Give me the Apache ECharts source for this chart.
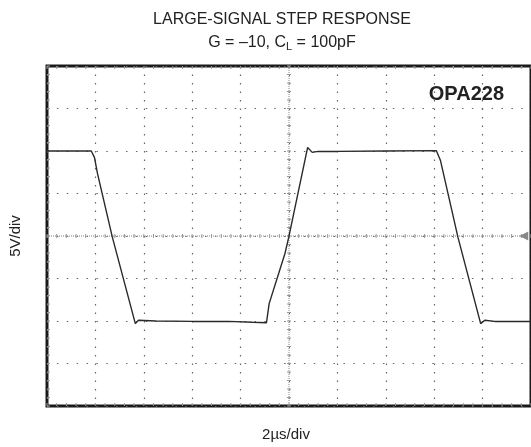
<!DOCTYPE html>
<html>
<head>
<meta charset="utf-8">
<script src="https://cdn.jsdelivr.net/npm/echarts@6/dist/echarts.min.js"></script>
<style>
  html, body { margin: 0; padding: 0; background: #fff; }
  #chart { width: 531px; height: 447px; }
</style>
</head>
<body>
<div id="chart"></div>
<script>
// Scope trace: time in microseconds, output in volts (2 µs/div, 5 V/div)
const timeUs = [0, 1.83, 1.96, 2.09, 2.70, 3.65, 3.78, 4.5, 6, 7.5, 8.5, 9.07, 9.18, 9.83, 9.99, 10.77, 10.96, 11.2, 12, 14, 16.09, 16.26, 16.98, 17.92, 18.09, 18.5, 20];
const volts  = [10, 10, 9.25, 7.3, -0.14, -10.31, -9.92, -10.0, -10.05, -10.05, -10.15, -10.2, -7.96, -2.09, -0.14, 10.42, 9.84, 9.95, 9.95, 10, 10.04, 8.87, -0.14, -10.31, -9.92, -10.05, -10.05];

// Screen divisions
const xRange = [0, 20];   // 10 divisions of 2 µs
const yRange = [-20, 20]; // 8 divisions of 5 V
const xDiv = 2;
const yDiv = 5;
const groundLevel = 0;

const titleLine1 = 'LARGE-SIGNAL STEP RESPONSE';
const partName = 'OPA228';
const xName = '2µs/div';
const yName = '5V/div';

const FONT = '"Liberation Sans", Arial, sans-serif';
const INK = '#222';
const DOT = '#666';

const chart = echarts.init(document.getElementById('chart'), null, { renderer: 'canvas' });

// Center cross-hair and edge ticks of the graticule, placed with the axes' scales
function renderGraticule(params, api) {
  const children = [];
  const tl = api.coord([xRange[0], yRange[1]]);
  const br = api.coord([xRange[1], yRange[0]]);
  const c = api.coord([(xRange[0] + xRange[1]) / 2, groundLevel]);
  const lineStyle = { stroke: '#999', lineWidth: 1 };
  children.push({ type: 'line', shape: { x1: tl[0], y1: c[1], x2: br[0], y2: c[1] },
    style: { stroke: '#888', lineWidth: 1, lineDash: [1, 1] } });
  children.push({ type: 'line', shape: { x1: c[0], y1: tl[1], x2: c[0], y2: br[1] },
    style: { stroke: '#888', lineWidth: 1, lineDash: [1, 1] } });
  const xMinor = xDiv / 5;
  for (let i = 0; i <= 50; i++) {
    const x = api.coord([xRange[0] + i * xMinor, 0])[0];
    children.push({ type: 'line', shape: { x1: x, y1: c[1] - 2, x2: x, y2: c[1] + 2 }, style: lineStyle });
    children.push({ type: 'line', shape: { x1: x, y1: br[1] - 3, x2: x, y2: br[1] }, style: lineStyle });
    children.push({ type: 'line', shape: { x1: x, y1: tl[1], x2: x, y2: tl[1] + 3 }, style: lineStyle });
  }
  const yMinor = yDiv / 5;
  for (let i = 0; i <= 40; i++) {
    const y = api.coord([0, yRange[0] + i * yMinor])[1];
    children.push({ type: 'line', shape: { x1: c[0] - 2, y1: y, x2: c[0] + 2, y2: y }, style: lineStyle });
    children.push({ type: 'line', shape: { x1: tl[0], y1: y, x2: tl[0] + 3, y2: y }, style: lineStyle });
  }
  return { type: 'group', children: children };
}

const option = {
  backgroundColor: '#fff',
  animation: false,
  title: [
    {
      text: titleLine1,
      left: 277, top: 7, textAlign: 'center',
      textStyle: { fontFamily: FONT, fontSize: 16, fontWeight: 'normal', color: INK }
    },
    {
      text: '{n|G = –10, C}{s|L}{n| = 100pF}',
      left: 277, top: 29, textAlign: 'center',
      textStyle: {
        fontWeight: 'normal',
        rich: {
          n: { fontFamily: FONT, fontSize: 16, fontWeight: 'normal', color: INK },
          s: { fontFamily: FONT, fontSize: 11, fontWeight: 'normal', color: INK, verticalAlign: 'bottom', padding: [7, 0, 0, 0] }
        }
      }
    },
    {
      text: partName,
      right: 22, top: 79,
      textStyle: { fontFamily: FONT, fontSize: 20, fontWeight: 'bold', color: INK }
    }
  ],
  grid: {
    left: 41.6, top: 66, width: 494, height: 340,
    show: true, borderColor: '#1a1a1a', borderWidth: 3, backgroundColor: 'transparent'
  },
  xAxis: {
    type: 'value', min: xRange[0], max: xRange[1], interval: xDiv,
    name: xName, nameLocation: 'middle', nameGap: 21,
    nameTextStyle: { fontFamily: FONT, fontSize: 15, color: INK, padding: [0, 6, 0, 0] },
    axisLine: { show: false }, axisTick: { show: false }, axisLabel: { show: false },
    splitLine: { show: true, lineStyle: { color: DOT, width: 1.2, type: [1.5, 7] } }
  },
  yAxis: {
    type: 'value', min: yRange[0], max: yRange[1], interval: yDiv,
    name: yName, nameLocation: 'middle', nameGap: 24, nameRotate: 90,
    nameTextStyle: { fontFamily: FONT, fontSize: 15, color: INK },
    axisLine: { show: false }, axisTick: { show: false }, axisLabel: { show: false },
    splitLine: { show: true, lineStyle: { color: DOT, width: 1.2, type: [1.5, 8.38] } }
  },
  series: [
    {
      type: 'custom',
      renderItem: renderGraticule,
      data: [[0, 0]],
      silent: true,
      clip: false,
      z: 1
    },
    {
      type: 'line',
      data: timeUs.map((t, i) => [t, volts[i]]),
      showSymbol: false,
      smooth: false,
      lineStyle: { color: '#2a2a2a', width: 1.4 },
      silent: true,
      z: 3,
      markPoint: {
        silent: true,
        symbol: 'triangle',
        symbolSize: [9, 9],
        symbolRotate: 90,
        itemStyle: { color: '#888' },
        label: { show: false },
        data: [{ coord: [19.7, groundLevel] }]
      }
    }
  ]
};

chart.setOption(option);
</script>
</body>
</html>
